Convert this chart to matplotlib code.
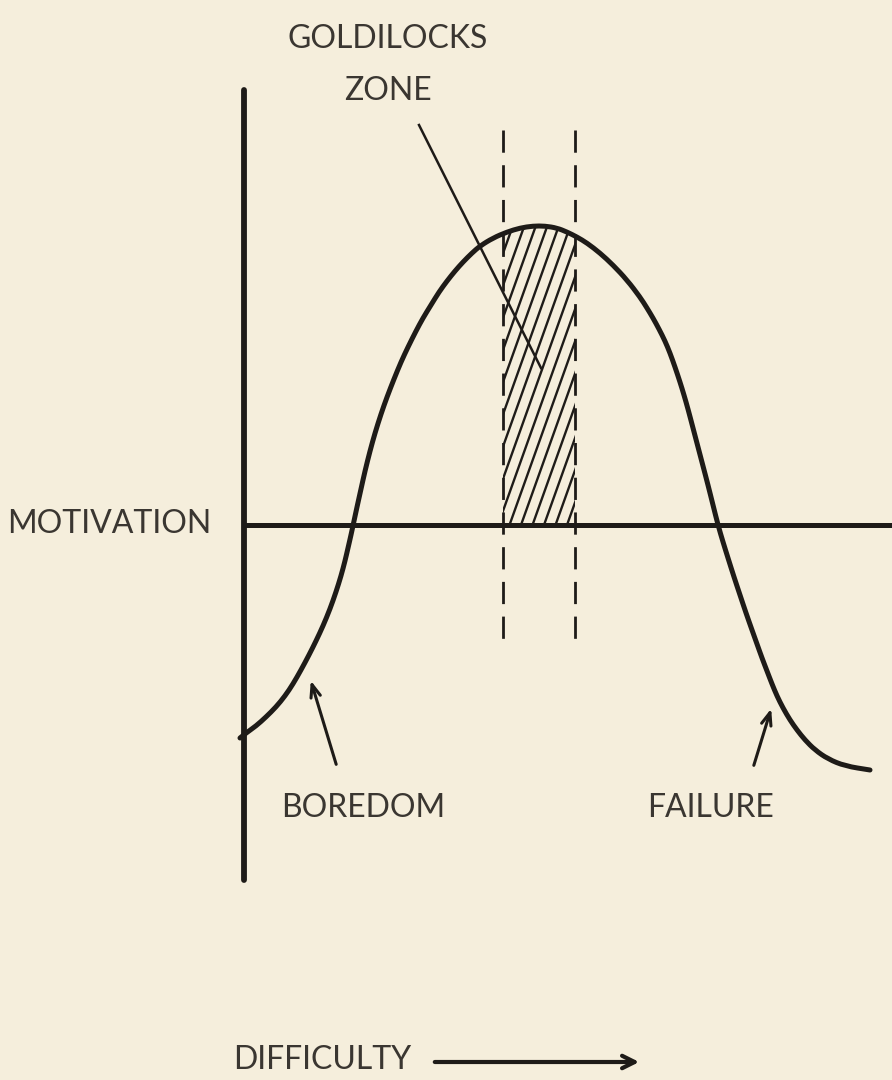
import numpy as np
import matplotlib
matplotlib.use("Agg")
import matplotlib.pyplot as plt
from matplotlib.path import Path
from matplotlib.patches import PathPatch

BG = "#F5EEDC"
INK = "#1E1B18"
TEXT = "#3A3631"

# motivation curve (figure units, y grows downward)
curve_x = [240, 246, 256, 266, 276, 285, 293, 301, 309, 316, 323, 330, 336, 341,
           345, 348, 351, 354, 357, 361, 365, 370, 375, 381, 387, 394, 401, 408,
           416, 423, 431, 439, 447, 455, 463, 472, 480, 493, 507, 520, 533, 545,
           557, 567, 577, 587, 600, 613, 627, 640, 647, 653, 659, 665, 670, 675,
           680, 684, 688, 693, 698, 703, 708, 713, 718, 723, 728, 734, 740, 746,
           752, 757, 762, 767, 772, 777, 783, 790, 797, 805, 815, 828, 845, 870]
curve_y = [738, 733, 726, 717, 707, 696, 684, 670, 655, 641, 626, 609, 592, 576,
           561, 548, 535, 521, 507, 489, 471, 451, 433, 414, 397, 379, 362, 347,
           331, 318, 305, 292, 281, 271, 262, 253, 246, 238, 232, 228, 226, 226,
           228, 232, 237, 243, 253, 265, 280, 297, 308, 318, 329, 341, 353, 367,
           382, 395, 409, 428, 447, 466, 485, 505, 525, 542, 558, 577, 595, 613,
           630, 644, 658, 671, 684, 696, 708, 720, 730, 740, 750, 759, 766, 770]

baseline_y = 525
axis_x = 244
axis_top, axis_bottom = 90, 880
zone_left, zone_right = 503, 575
zone_top, zone_bottom = 130, 642

labels = {
    "MOTIVATION": (109, 524),
    "BOREDOM": (363, 808),
    "FAILURE": (711, 808),
}
zone_lines = ["GOLDILOCKS", "ZONE"]
zone_pos = [(388, 39), (388, 91)]


def smooth_path(xs, ys):
    # quadratic segments through midpoints, control points at the data points
    pts = np.column_stack([xs, ys])
    verts = [pts[0]]
    codes = [Path.MOVETO]
    for i in range(1, len(pts) - 1):
        verts += [pts[i], (pts[i] + pts[i + 1]) / 2]
        codes += [Path.CURVE3, Path.CURVE3]
    verts.append(pts[-1])
    codes.append(Path.LINETO)
    return Path(verts, codes)


fig = plt.figure(figsize=(8.92, 10.8), dpi=100)
fig.patch.set_facecolor(BG)
ax = fig.add_axes([0, 0, 1, 1])
ax.set_facecolor(BG)
ax.set_xlim(0, 892)
ax.set_ylim(1080, 0)
ax.axis("off")

cx = np.array(curve_x, dtype=float)
cy = np.array(curve_y, dtype=float)

# axes
ax.plot([axis_x, axis_x], [axis_top, axis_bottom], color=INK, lw=4.2,
        solid_capstyle="round")
ax.plot([axis_x, 892], [baseline_y, baseline_y], color=INK, lw=3.6)

# curve
ax.add_patch(PathPatch(smooth_path(cx, cy), facecolor="none", edgecolor=INK,
                       lw=3.6, capstyle="round", joinstyle="round"))

# zone boundaries
for zx in (zone_left, zone_right):
    ax.plot([zx, zx], [zone_top, zone_bottom], color=INK, lw=2.0,
            dashes=(8, 4.5))

# hatched zone
mask = (cx >= zone_left) & (cx <= zone_right)
top_x = np.concatenate([[zone_left], cx[mask], [zone_right]])
top_y = np.interp(top_x, cx, cy)
verts = [(zone_left, baseline_y)] + list(zip(top_x, top_y)) + [(zone_right, baseline_y)]
clip = PathPatch(Path(verts + [verts[0]], closed=True), facecolor="none",
                 edgecolor="none")
ax.add_patch(clip)
slope = 2.8
for x0 in np.arange(zone_left - 120, zone_right + 20, 11.5):
    hl, = ax.plot([x0, x0 + 300 / slope], [baseline_y, baseline_y - 300],
                  color=INK, lw=1.7)
    hl.set_clip_path(clip)

# leader line from label
ax.plot([419, 541], [125, 368], color=INK, lw=1.8)

# arrows to labels
head = dict(arrowstyle="->,head_length=0.9,head_width=0.35", color=INK, lw=2.2)
ax.annotate("", xy=(310, 678), xytext=(337, 767), arrowprops=head)
ax.annotate("", xy=(772, 706), xytext=(753, 768), arrowprops=head)

font = dict(family=["Lato", "DejaVu Sans"], color=TEXT, fontsize=23)
for name, (tx, ty) in labels.items():
    ax.text(tx, ty, name, ha="center", va="center", **font)
for line, (tx, ty) in zip(zone_lines, zone_pos):
    ax.text(tx, ty, line, ha="center", va="center", **font)

ax.text(322, 1060, "DIFFICULTY", ha="center", va="center", **font)
ax.annotate("", xy=(642, 1062), xytext=(432, 1062),
            arrowprops=dict(arrowstyle="->,head_length=0.9,head_width=0.45",
                            color=INK, lw=3.0))

fig.savefig("out.png", dpi=100, facecolor=BG)
